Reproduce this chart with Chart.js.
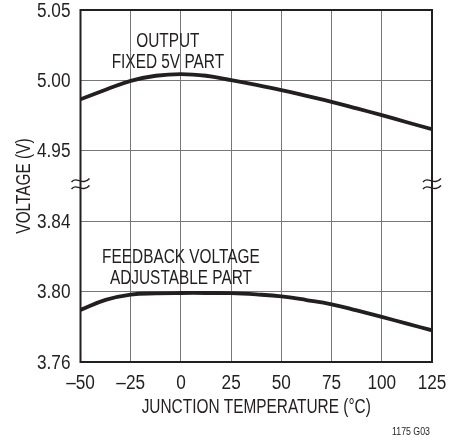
<!DOCTYPE html>
<html>
<head>
<meta charset="utf-8">
<script src="https://cdn.jsdelivr.net/npm/chart.js@4/dist/chart.umd.min.js"></script>
<style>
  html, body { margin: 0; padding: 0; background: #fff; }
  #wrap { width: 461px; height: 444px; position: relative; }
</style>
</head>
<body>
<div id="wrap"><canvas id="line-chart"></canvas></div>
<script>
// temperatures (°C)
const temps = [-50, -37.5, -25, -12.5, 0, 12.5, 25, 37.5, 50, 62.5, 75, 87.5, 100, 112.5, 125];
// fixed 5V part output (V)
const outputVolts = [4.9866, 4.9933, 4.9997, 5.0033, 5.0045, 5.0033, 5.0002, 4.9968, 4.9931, 4.9890, 4.9848, 4.9801, 4.9753, 4.9703, 4.9653];
// adjustable part feedback voltage (V)
const feedbackVolts = [3.7896, 3.7953, 3.7983, 3.7990, 3.7992, 3.7992, 3.7991, 3.7984, 3.7973, 3.7952, 3.7928, 3.7893, 3.7856, 3.7818, 3.7780];
// y tick labels, bottom to top (axis is broken between 3.84 and 4.95)
const yTickLabels = ['3.76', '3.80', '3.84', '4.95', '5.00', '5.05'];
const xTicks = [-50, -25, 0, 25, 50, 75, 100, 125];

const fontFam = "'Liberation Sans', Arial, sans-serif";
const ink = '#231f20';

// map real voltages onto one continuous axis: each band of the break is one unit per step
function upperBand(v) { return 3 + (v - 4.95) / 0.05; }
function lowerBand(v) { return (v - 3.76) / 0.04; }

// condensed look: squeeze Liberation Sans horizontally
function narrowText(ctx, text, x, y, size, squeeze, align) {
    ctx.save();
    ctx.font = size + 'px ' + fontFam;
    ctx.textAlign = align || 'center';
    ctx.textBaseline = 'alphabetic';
    ctx.translate(x, y + 0.358 * size);
    ctx.scale(squeeze, 1);
    ctx.fillText(text, 0, 0);
    ctx.restore();
}

const decorations = {
    id: 'decorations',
    afterDraw(chart) {
        const ctx = chart.ctx;
        const a = chart.chartArea;
        const xs = chart.scales.x, ys = chart.scales.y;
        ctx.save();
        // frame
        ctx.strokeStyle = ink;
        ctx.lineWidth = 2;
        ctx.strokeRect(a.left, a.top, a.right - a.left, a.bottom - a.top);

        // break marks on both sides
        const yb = (ys.getPixelForValue(2) + ys.getPixelForValue(3)) / 2 - 2;
        [a.left, a.right].forEach(x0 => {
            ctx.strokeStyle = ink;
            ctx.lineWidth = 1.4;
            [-3.5, 3.5].forEach(dy => {
                ctx.beginPath();
                ctx.moveTo(x0 - 9, yb + dy + 1.5);
                ctx.bezierCurveTo(x0 - 4, yb + dy - 5, x0 + 2, yb + dy + 6, x0 + 9, yb + dy - 2);
                ctx.stroke();
            });
        });

        ctx.fillStyle = ink;
        // tick labels
        xTicks.forEach(v => {
            const s = v < 0 ? '\u2013' + Math.abs(v) : String(v);
            narrowText(ctx, s, xs.getPixelForValue(v), a.bottom + 19.5, 20, 0.86, 'center');
        });
        yTickLabels.forEach((s, i) => {
            narrowText(ctx, s, a.left - 10, ys.getPixelForValue(i) - 0.5, 20, 0.86, 'right');
        });

        // curve labels
        const cx1 = xs.getPixelForValue(-6.5);
        narrowText(ctx, 'OUTPUT', cx1, 39.5, 20, 0.77);
        narrowText(ctx, 'FIXED 5V PART', cx1, 61, 20, 0.77);
        const cx2 = xs.getPixelForValue(0);
        narrowText(ctx, 'FEEDBACK VOLTAGE', cx2, 255.5, 20, 0.77);
        narrowText(ctx, 'ADJUSTABLE PART', cx2, 277, 20, 0.77);

        // axis titles
        narrowText(ctx, 'JUNCTION TEMPERATURE (\u00B0C)', (a.left + a.right) / 2, 405.5, 20, 0.77);
        ctx.save();
        ctx.translate(23, (a.top + a.bottom) / 2);
        ctx.rotate(-Math.PI / 2);
        narrowText(ctx, 'VOLTAGE (V)', 0, 0, 20, 0.77);
        ctx.restore();

        // figure id
        narrowText(ctx, '1175 G03', 430, 431, 11, 0.8, 'right');
        ctx.restore();
    }
};

let voltageChart = new Chart('line-chart', {
    type: 'line',
    data: {
        datasets: [
            {
                label: 'Output, fixed 5V part',
                data: temps.map((t, i) => ({ x: t, y: upperBand(outputVolts[i]) }))
            },
            {
                label: 'Feedback voltage, adjustable part',
                data: feedbackVolts.map((v, i) => ({ x: temps[i], y: lowerBand(v) }))
            }
        ]
    },
    options: {
        responsive: true,
        maintainAspectRatio: false,
        animation: false,
        layout: { padding: { top: 10, right: 29, left: 0, bottom: 0 } },
        elements: {
            line: { borderColor: ink, borderWidth: 3.8, tension: 0.4, fill: false },
            point: { radius: 0 }
        },
        plugins: {
            legend: false,
            tooltip: { enabled: false }
        },
        scales: {
            x: {
                type: 'linear',
                min: -50,
                max: 125,
                afterBuildTicks: scale => { scale.ticks = xTicks.map(v => ({ value: v })); },
                afterFit: scale => { scale.height = 82; },
                grid: { color: '#777', lineWidth: 1, drawTicks: false },
                border: { display: false },
                ticks: { display: false }
            },
            y: {
                type: 'linear',
                min: 0,
                max: 5,
                afterBuildTicks: scale => { scale.ticks = yTickLabels.map((s, i) => ({ value: i })); },
                afterFit: scale => { scale.width = 80.5; },
                grid: { color: '#777', lineWidth: 1, drawTicks: false },
                border: { display: false },
                ticks: { display: false }
            }
        }
    },
    plugins: [decorations]
});
</script>
</body>
</html>
